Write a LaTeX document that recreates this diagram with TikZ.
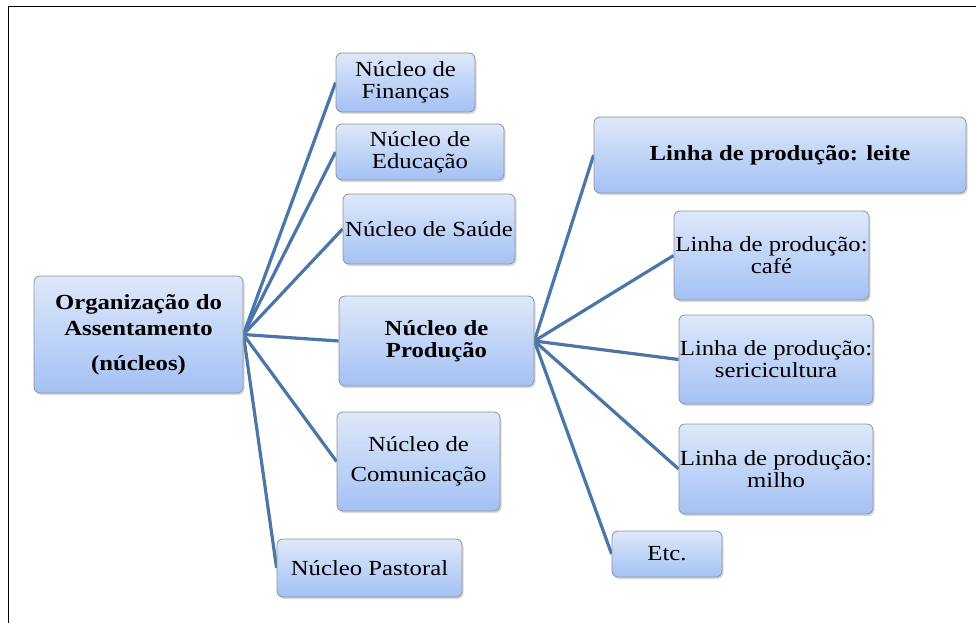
\documentclass[tikz,border=0pt]{standalone}
\usepackage{fontspec}
\setmainfont{Liberation Serif}[FakeStretch=1.15]
\usetikzlibrary{shadows,backgrounds}
\definecolor{linkblue}{HTML}{4A76A8}
\definecolor{boxtop}{HTML}{DEE8FA}
\definecolor{boxbot}{HTML}{A4C1F4}
\definecolor{boxline}{HTML}{8E9399}
\begin{document}
\begin{tikzpicture}[x=1pt,y=-1pt,
  box/.style={draw=boxline, line width=0.8pt, rounded corners=6pt,
    top color=boxtop, bottom color=boxbot,
    drop shadow={opacity=0.3, shadow xshift=1.5pt, shadow yshift=-2pt},
    inner sep=0pt, align=center, font=\fontsize{21.5}{22}\selectfont},
  link/.style={draw=linkblue, line width=3.2pt}]
\useasboundingbox (0,0) rectangle (976,623);
\draw[line width=1.6pt] (8.5,623) -- (8.5,6.5) -- (976,6.5);

\node[box, minimum width=209pt, minimum height=117pt] (root) at (138.5,334.5)
  {\bfseries Organização do\\[4pt]\bfseries Assentamento\\[13pt]\bfseries (núcleos)};
\node[box, minimum width=139pt, minimum height=59pt] (fin) at (405.5,82.5) {Núcleo de\\Finanças};
\node[box, minimum width=168pt, minimum height=56pt] (edu) at (420,152) {Núcleo de\\Educação};
\node[box, minimum width=172pt, minimum height=70pt] (sau) at (429,229) {Núcleo de Saúde};
\node[box, minimum width=195pt, minimum height=90pt] (prod) at (436.5,341) {\bfseries Núcleo de\\\bfseries Produção};
\node[box, minimum width=163pt, minimum height=99pt] (com) at (418.5,461.5) {Núcleo de\\[8pt]Comunicação};
\node[box, minimum width=185pt, minimum height=58pt] (pas) at (369.5,568) {Núcleo Pastoral};

\node[box, minimum width=372pt, minimum height=76pt] (leite) at (780,155) {\bfseries Linha de produção: leite};
\node[box, minimum width=195pt, minimum height=89pt] (cafe) at (771.5,255.5) {Linha de produção:\\café};
\node[box, minimum width=194pt, minimum height=89pt] (seri) at (776,359.5) {Linha de produção:\\sericicultura};
\node[box, minimum width=194pt, minimum height=90pt] (milho) at (776,469) {Linha de produção:\\milho};
\node[box, minimum width=110pt, minimum height=46pt] (etc) at (667,554) {Etc.};

\begin{scope}[on background layer]
\foreach \t in {fin,edu,sau,prod,com,pas}
  \draw[link] (root.east) -- (\t.west);
\foreach \t in {leite,cafe,seri,milho,etc}
  \draw[link] (prod.east) -- (\t.west);
\end{scope}
\end{tikzpicture}
\end{document}
